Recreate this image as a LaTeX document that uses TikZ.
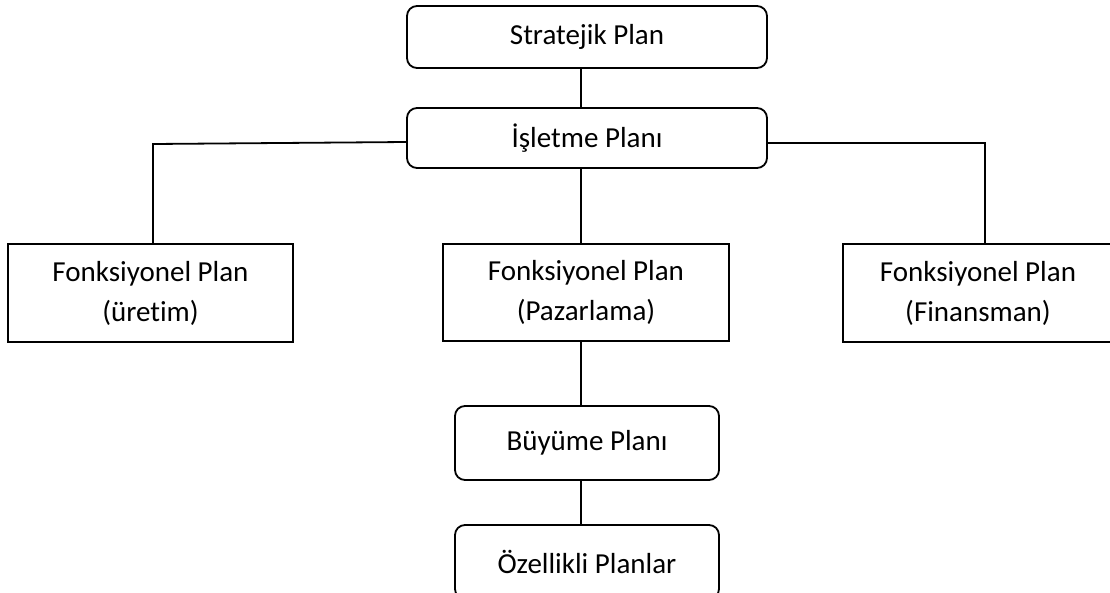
\documentclass[tikz,border=0pt]{standalone}
\usepackage{fontspec}
\setmainfont[Ligatures=NoCommon]{Carlito}
\begin{document}
\begin{tikzpicture}[x=1pt,y=-1pt,
  every node/.style={font=\fontsize{29}{40}\selectfont, inner sep=0pt, align=center},
  roundbox/.style={draw, line width=1.8pt, rounded corners=10pt},
  squarebox/.style={draw, line width=1.8pt},
  link/.style={line width=1.8pt}]
  \clip (0,0) rectangle (1110,592);
  \node[roundbox, minimum width=360pt, minimum height=62pt] (strat) at (587,37) {Stratejik Plan};
  \node[roundbox, minimum width=360pt, minimum height=60pt] (isl) at (587,138) {İşletme Planı};
  \node[squarebox, minimum width=285pt, minimum height=98pt] (uret) at (150.5,293) {Fonksiyonel Plan\\(üretim)};
  \node[squarebox, minimum width=286pt, minimum height=97pt] (paz) at (586,292.5) {Fonksiyonel Plan\\(Pazarlama)};
  \node[squarebox, minimum width=270pt, minimum height=98pt] (fin) at (978,293) {Fonksiyonel Plan\\(Finansman)};
  \node[roundbox, minimum width=264pt, minimum height=74pt] (buy) at (587,443) {Büyüme Planı};
  \node[roundbox, minimum width=264pt, minimum height=74pt] (ozel) at (587,562) {Özellikli Planlar};
  \coordinate (spine) at (581,0);
  \coordinate (lk) at (153,144);
  \coordinate (rk) at (985,143);
  \draw[link] (strat.south -| spine) -- (isl.north -| spine);
  \draw[link] (isl.south -| spine) -- (paz.north -| spine);
  \draw[link] (paz.south -| spine) -- (buy.north -| spine);
  \draw[link] (buy.south -| spine) -- (ozel.north -| spine);
  \draw[link] ([yshift=-4pt]isl.west) -- (lk) -- (lk |- uret.north);
  \draw[link] ([yshift=-5pt]isl.east) -- (rk) -- (rk |- fin.north);
\end{tikzpicture}
\end{document}
